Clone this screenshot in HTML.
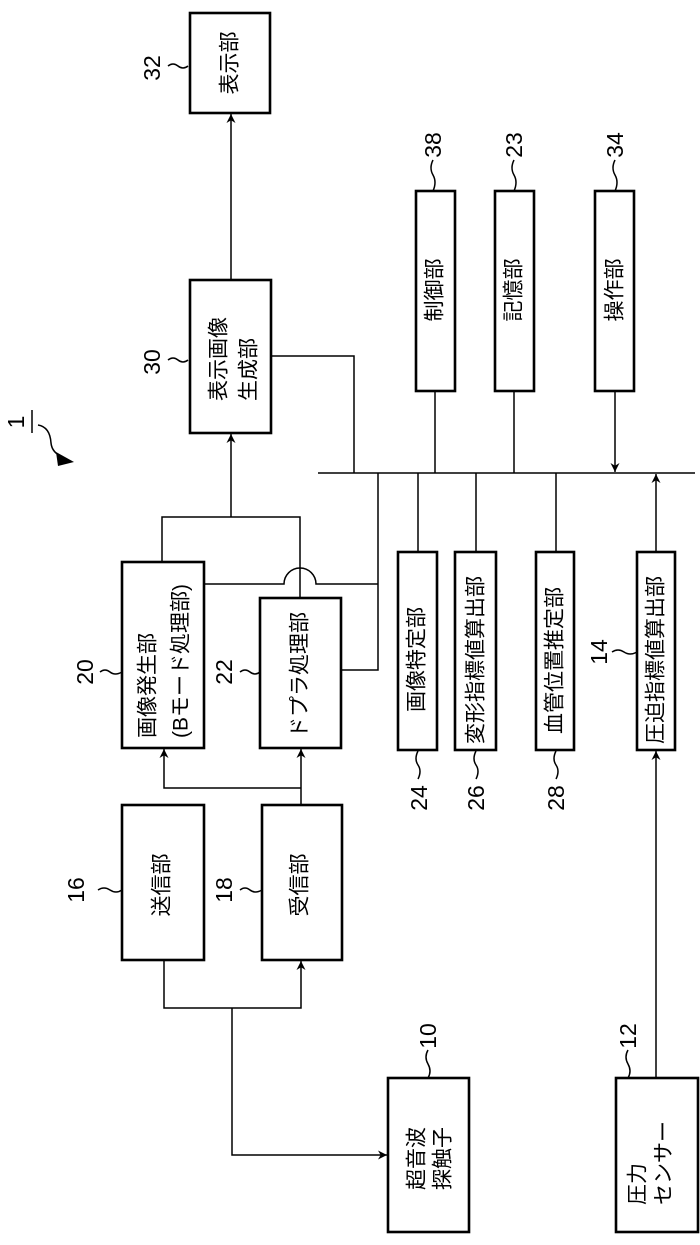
<!DOCTYPE html>
<html><head><meta charset="utf-8"><style>html,body{margin:0;padding:0;background:#fff}svg{display:block}</style></head><body>
<svg width="700" height="1245" viewBox="0 0 700 1245" xmlns="http://www.w3.org/2000/svg" font-family="'Liberation Sans','Noto Sans CJK JP',sans-serif">
<defs><marker id="a" viewBox="0 0 10 10" refX="10" refY="5" markerWidth="9" markerHeight="9" markerUnits="userSpaceOnUse" orient="auto"><path d="M0,0 L10,5 L0,10 L3,5 z" fill="#000"/></marker></defs>
<g fill="none" stroke="#000" stroke-width="2.6">
<rect x="190" y="13" width="80" height="100"/>
<rect x="190" y="280" width="81" height="153"/>
<rect x="416" y="191" width="39" height="200"/>
<rect x="495" y="191" width="39" height="200"/>
<rect x="595" y="191" width="39" height="200"/>
<rect x="122" y="562" width="82" height="186"/>
<rect x="260" y="598" width="81" height="150"/>
<rect x="398" y="552" width="39" height="198"/>
<rect x="455" y="552" width="41" height="198"/>
<rect x="536" y="552" width="38" height="198"/>
<rect x="637" y="552" width="38" height="198"/>
<rect x="122" y="805" width="82" height="155"/>
<rect x="262" y="805" width="80" height="155"/>
<rect x="388" y="1078" width="81" height="154"/>
<rect x="616" y="1078" width="82" height="154"/>
</g>
<g fill="none" stroke="#000" stroke-width="1.5">
<line x1="231" y1="280" x2="231" y2="114" marker-end="url(#a)"/>
<polyline points="271,356 354,356 354,473"/>
<line x1="318" y1="473" x2="695" y2="473"/>
<line x1="435" y1="391" x2="435" y2="473"/>
<line x1="514" y1="391" x2="514" y2="473"/>
<line x1="615" y1="391" x2="615" y2="472" marker-end="url(#a)"/>
<line x1="656" y1="552" x2="656" y2="474" marker-end="url(#a)"/>
<line x1="418" y1="473" x2="418" y2="552"/>
<line x1="476" y1="473" x2="476" y2="552"/>
<line x1="556" y1="473" x2="556" y2="552"/>
<polyline points="341,670 378,670 378,473"/>
<polyline points="162,562 162,517 300,517 300,598"/>
<line x1="231" y1="517" x2="231" y2="434" marker-end="url(#a)"/>
<path d="M204,584 L284,584 A16,16 0 0 1 316,584 L378,584"/>
<polyline points="301,805 301,749" marker-end="url(#a)"/>
<polyline points="301,788 164,788 164,749" marker-end="url(#a)"/>
<polyline points="164,960 164,1008 301,1008 301,961" marker-end="url(#a)"/>
<polyline points="232,1008 232,1155 387,1155" marker-end="url(#a)"/>
<line x1="656" y1="1078" x2="656" y2="751" marker-end="url(#a)"/>
<path d="M168,66 q5,-4 10,0 t10,0"/>
<path d="M168,360 q5,-4 10,0 t10,0"/>
<path d="M433,160 q-4,8 0,15 t0,16"/>
<path d="M514,160 q-4,8 0,15 t0,16"/>
<path d="M615,160 q-4,8 0,15 t0,16"/>
<path d="M100,672 q5,-4 10,0 t12,0"/>
<path d="M240,672 q5,-4 10,0 t10,0"/>
<path d="M98,890 q6,-4 12,0 t12,0"/>
<path d="M240,890 q5,-4 10,0 t12,0"/>
<path d="M418,751 q-4,8 0,14 t0,14"/>
<path d="M476,751 q-4,8 0,14 t0,14"/>
<path d="M556,751 q-4,8 0,14 t0,14"/>
<path d="M612,652 q6,-4 12,0 t13,0"/>
<path d="M428,1050 q-4,7 0,14 t0,14"/>
<path d="M628,1050 q-4,7 0,14 t0,14"/>
<line x1="32" y1="410" x2="32" y2="433"/>
<path d="M38,425 q12,2 13,18 q1,10 12,14" />
</g>
<path d="M56,452 L74,462 L58,466 z" fill="#000"/>
<g font-size="21" fill="#000">
<text transform="translate(230,63) rotate(-90)" text-anchor="middle" dominant-baseline="central">表示部</text>
<text transform="translate(219,401) rotate(-90)" dominant-baseline="central">表示画像</text>
<text transform="translate(249,401) rotate(-90)" dominant-baseline="central">生成部</text>
<text transform="translate(435,290) rotate(-90)" text-anchor="middle" dominant-baseline="central">制御部</text>
<text transform="translate(514,290) rotate(-90)" text-anchor="middle" dominant-baseline="central">記憶部</text>
<text transform="translate(615,290) rotate(-90)" text-anchor="middle" dominant-baseline="central">操作部</text>
<text transform="translate(148,738) rotate(-90)" dominant-baseline="central">画像発生部</text>
<text transform="translate(181,738) rotate(-90)" dominant-baseline="central">(Bモード処理部)</text>
<text transform="translate(300,738) rotate(-90)" dominant-baseline="central">ドプラ処理部</text>
<text transform="translate(417,712) rotate(-90)" dominant-baseline="central">画像特定部</text>
<text transform="translate(476,744) rotate(-90)" dominant-baseline="central">変形指標値算出部</text>
<text transform="translate(555,734) rotate(-90)" dominant-baseline="central">血管位置推定部</text>
<text transform="translate(656,744) rotate(-90)" dominant-baseline="central">圧迫指標値算出部</text>
<text transform="translate(162,885) rotate(-90)" text-anchor="middle" dominant-baseline="central">送信部</text>
<text transform="translate(300,885) rotate(-90)" text-anchor="middle" dominant-baseline="central">受信部</text>
<text transform="translate(417,1190) rotate(-90)" dominant-baseline="central">超音波</text>
<text transform="translate(443,1190) rotate(-90)" dominant-baseline="central">探触子</text>
<text transform="translate(638,1205) rotate(-90)" dominant-baseline="central">圧力</text>
<text transform="translate(664,1205) rotate(-90)" dominant-baseline="central">センサー</text>
</g>
<g font-size="23" fill="#000">
<text transform="translate(152,68) rotate(-90)" text-anchor="middle" dominant-baseline="central">32</text>
<text transform="translate(152,362) rotate(-90)" text-anchor="middle" dominant-baseline="central">30</text>
<text transform="translate(433,145) rotate(-90)" text-anchor="middle" dominant-baseline="central">38</text>
<text transform="translate(514,145) rotate(-90)" text-anchor="middle" dominant-baseline="central">23</text>
<text transform="translate(615,145) rotate(-90)" text-anchor="middle" dominant-baseline="central">34</text>
<text transform="translate(85,672) rotate(-90)" text-anchor="middle" dominant-baseline="central">20</text>
<text transform="translate(224,672) rotate(-90)" text-anchor="middle" dominant-baseline="central">22</text>
<text transform="translate(76,890) rotate(-90)" text-anchor="middle" dominant-baseline="central">16</text>
<text transform="translate(224,890) rotate(-90)" text-anchor="middle" dominant-baseline="central">18</text>
<text transform="translate(419,798) rotate(-90)" text-anchor="middle" dominant-baseline="central">24</text>
<text transform="translate(476,798) rotate(-90)" text-anchor="middle" dominant-baseline="central">26</text>
<text transform="translate(556,798) rotate(-90)" text-anchor="middle" dominant-baseline="central">28</text>
<text transform="translate(599,652) rotate(-90)" text-anchor="middle" dominant-baseline="central">14</text>
<text transform="translate(428,1036) rotate(-90)" text-anchor="middle" dominant-baseline="central">10</text>
<text transform="translate(628,1036) rotate(-90)" text-anchor="middle" dominant-baseline="central">12</text>
<text transform="translate(16,422) rotate(-90)" text-anchor="middle" dominant-baseline="central">1</text>
</g>
</svg>
</body></html>
